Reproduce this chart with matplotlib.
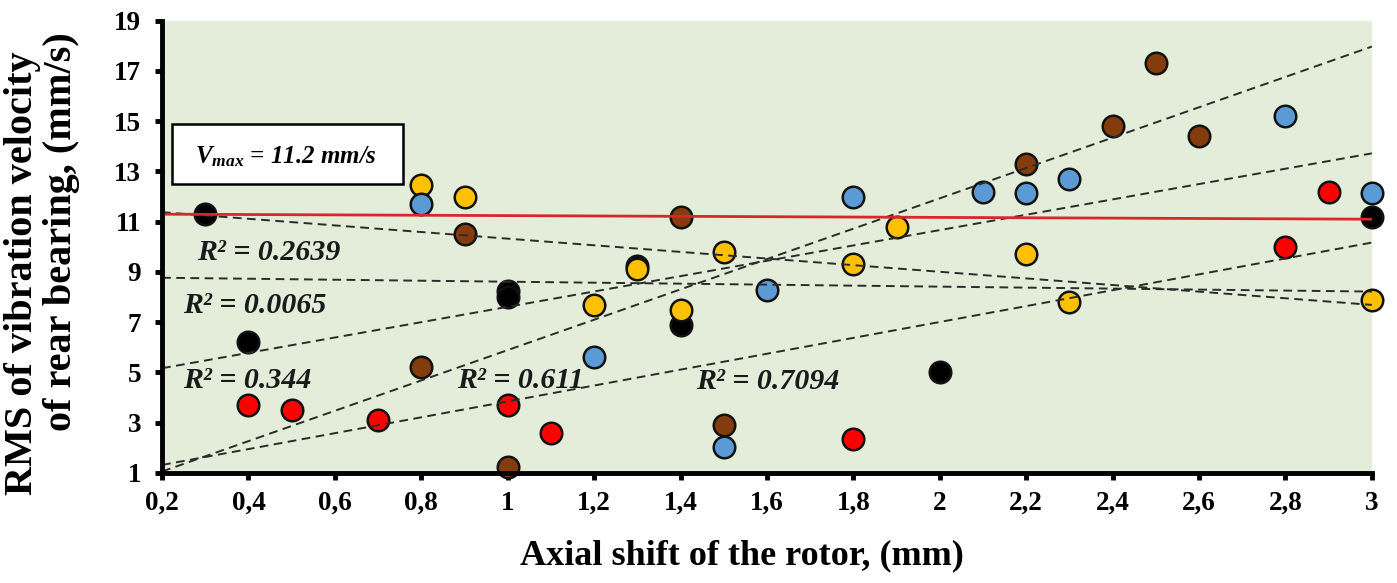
import numpy as np
import matplotlib
matplotlib.use("Agg")
import matplotlib.pyplot as plt
from matplotlib.patches import Rectangle

plt.rcParams['font.family'] = ['Liberation Serif', 'DejaVu Serif']
plt.rcParams['mathtext.fontset'] = 'custom'
plt.rcParams['mathtext.it'] = 'Liberation Serif:italic:bold'
plt.rcParams['mathtext.rm'] = 'Liberation Serif:italic:bold'

# ---- data ----
black_x = [0.3, 0.4, 1.0, 1.0, 1.3, 1.4, 2.0, 3.0]
black_y = [11.3, 6.2, 8.25, 8.0, 9.25, 6.9, 5.0, 11.2]

red_x = [0.4, 0.5, 0.7, 1.0, 1.1, 1.8, 2.8, 2.9]
red_y = [3.7, 3.5, 3.1, 3.7, 2.6, 2.35, 10.0, 12.2]

brown_x = [0.8, 0.9, 1.0, 1.4, 1.5, 2.2, 2.4, 2.5, 2.6]
brown_y = [5.2, 10.5, 1.25, 11.2, 2.9, 13.3, 14.8, 17.3, 14.4]

yellow_x = [0.8, 0.9, 1.2, 1.3, 1.4, 1.5, 1.8, 1.9, 2.2, 2.3, 3.0]
yellow_y = [12.45, 12.0, 7.7, 9.1, 7.5, 9.8, 9.3, 10.8, 9.7, 7.8, 7.9]

blue_x = [0.8, 1.2, 1.5, 1.6, 1.8, 2.1, 2.2, 2.3, 2.8, 3.0]
blue_y = [11.7, 5.6, 2.05, 8.3, 12.0, 12.2, 12.15, 12.7, 15.2, 12.15]

# linear trend lines as shown in the chart: value at x=0.2 and at x=3.0
# order: yellow, black, blue, brown, red
trend_x = [0.2, 3.0]
trend_start = [11.38, 8.77, 5.17, 1.06, 1.32]
trend_end = [7.69, 8.22, 13.72, 17.97, 10.17]
r2_labels = ["R² = 0.2639", "R² = 0.0065", "R² = 0.344", "R² = 0.611", "R² = 0.7094"]

vmax_line_x = [0.2, 3.0]
vmax_line_y = [11.3, 11.1]

x_ticks = [0.2, 0.4, 0.6, 0.8, 1.0, 1.2, 1.4, 1.6, 1.8, 2.0, 2.2, 2.4, 2.6, 2.8, 3.0]
x_tick_labels = ["0,2", "0,4", "0,6", "0,8", "1", "1,2", "1,4", "1,6", "1,8", "2",
                 "2,2", "2,4", "2,6", "2,8", "3"]
y_ticks = [1, 3, 5, 7, 9, 11, 13, 15, 17, 19]

# ---- figure ----
fig = plt.figure(figsize=(13.97, 5.83), dpi=100)
ax = fig.add_axes([0.116, 0.1887, 0.866, 0.7758])
ax.set_facecolor('#E3EDDA')

series = [
    (black_x, black_y, '#000000'),
    (red_x, red_y, '#FF0000'),
    (brown_x, brown_y, '#843C0C'),
    (yellow_x, yellow_y, '#FFC000'),
    (blue_x, blue_y, '#5B9BD5'),
]
for xs, ys, c in series:
    ax.plot(xs, ys, 'o', ms=15.5, mfc=c, mec='#111111', mew=1.8,
            ls='none', zorder=3, clip_on=False)

for y0, y1 in zip(trend_start, trend_end):
    ax.plot(trend_x, [y0, y1], color='#2b2b2b', lw=1.4,
            linestyle=(0, (4.5, 2.8)), zorder=4)

# V_max line
ax.plot(vmax_line_x, vmax_line_y, color='#D9262B', lw=2.0, zorder=5)

# R² labels
r2_pos = [(0.281, 9.76), (0.249, 7.65), (0.249, 4.70), (0.882, 4.70), (1.437, 4.64)]
for lab, (px, py) in zip(r2_labels, r2_pos):
    ax.text(px, py, lab, fontsize=21.5, fontweight='bold', fontstyle='italic',
            ha='left', va='center', color='#1a1a1a', zorder=6)

# V_max box
ax.add_patch(Rectangle((0.223, 12.5), 0.534, 2.39, facecolor='white',
                       edgecolor='black', lw=1.8, zorder=6))
ax.text(0.276, 13.6, r"$V_{max}$ = 11.2 mm/s", fontsize=18, fontweight='bold',
        fontstyle='italic', ha='left', va='center', zorder=7)

ax.set_xlim(0.2, 3.0)
ax.set_ylim(1, 19)
ax.set_xticks(x_ticks)
ax.set_xticklabels(x_tick_labels)
ax.set_yticks(y_ticks)
ax.set_yticklabels([str(v) for v in y_ticks])

for s in ['top', 'right']:
    ax.spines[s].set_visible(False)
for s in ['left', 'bottom']:
    ax.spines[s].set_linewidth(3.5)
    ax.spines[s].set_color('black')
    ax.spines[s].set_zorder(8)

ax.tick_params(axis='both', direction='out', length=5, width=3.5,
               labelsize=19.5, colors='black')
ax.tick_params(axis='y', pad=10)
ax.tick_params(axis='x', pad=8)
for t in ax.get_xticklabels() + ax.get_yticklabels():
    t.set_fontweight('bold')

ax.set_xlabel("Axial shift of the rotor, (mm)", fontsize=26, fontweight='bold',
              va='center')
ax.xaxis.set_label_coords(0.479, -0.183)

fig.text(23 / 1397, 1 - 273 / 583, "RMS of vibration velocity", rotation=90,
         fontsize=29, fontweight='bold', ha='center', va='center')
fig.text(62 / 1397, 1 - 232 / 583, "of rear bearing, (mm/s)", rotation=90,
         fontsize=29, fontweight='bold', ha='center', va='center')

fig.savefig("out.png", dpi=100)
